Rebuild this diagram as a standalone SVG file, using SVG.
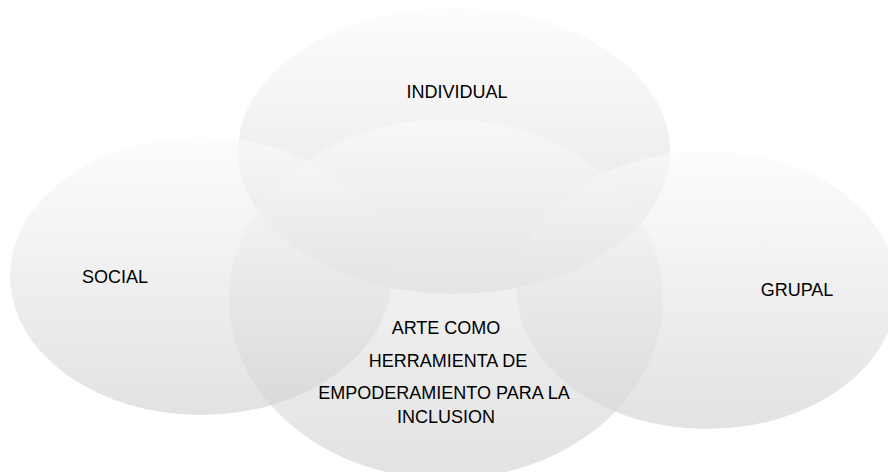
<svg xmlns="http://www.w3.org/2000/svg" width="888" height="472" viewBox="0 0 888 472">
<defs>
<linearGradient id="g" x1="0" y1="0" x2="0" y2="1">
<stop offset="0" stop-color="#fbfbfb"/>
<stop offset="1" stop-color="#cfcfcf"/>
</linearGradient>
<style>
.c{fill:url(#g);fill-opacity:0.6;stroke:none}
.t{font-family:"Liberation Sans",Arial,sans-serif;font-size:18px;fill:#000;text-anchor:middle}
</style>
</defs>
<rect width="888" height="472" fill="#fff"/>
<g id="node-individual"><ellipse class="c" cx="454" cy="151" rx="216" ry="143"/></g>
<g id="node-grupal"><ellipse class="c" cx="707" cy="290" rx="190" ry="139"/></g>
<g id="node-center"><ellipse class="c" cx="446" cy="299" rx="217" ry="180"/></g>
<g id="node-social"><ellipse class="c" cx="201" cy="276" rx="191" ry="139"/></g>
<g id="labels">
<text class="t" x="457" y="98">INDIVIDUAL</text>
<text class="t" x="115" y="283">SOCIAL</text>
<text class="t" x="797" y="296">GRUPAL</text>
<text class="t" x="446" y="334">ARTE COMO</text>
<text class="t" x="448" y="367">HERRAMIENTA DE</text>
<text class="t" x="444" y="399">EMPODERAMIENTO PARA LA</text>
<text class="t" x="446" y="423">INCLUSION</text>
</g>
<g id="connectors"/>
</svg>
